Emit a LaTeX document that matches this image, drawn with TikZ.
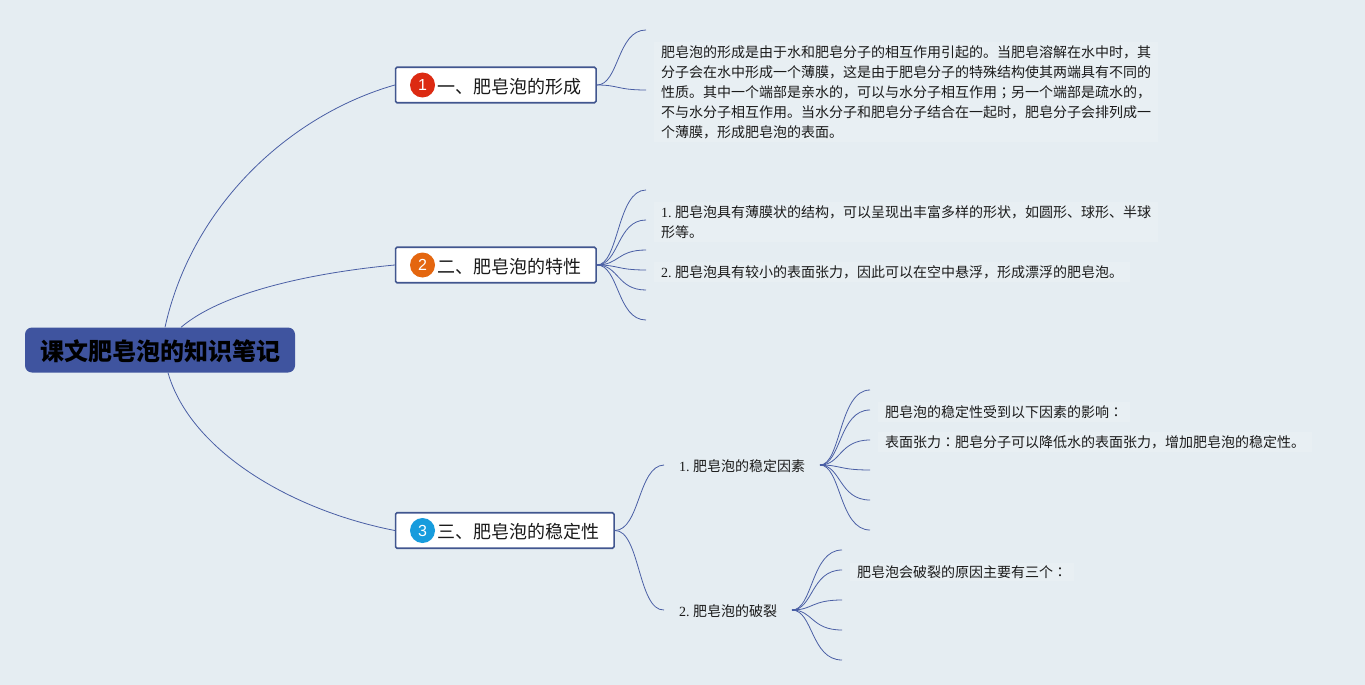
\documentclass[tikz,border=0pt]{standalone}
\usepackage{fontspec}
\setmainfont{Noto Sans CJK SC}
\newfontfamily\latn{Liberation Serif}
\newfontfamily\numf{Liberation Sans}
\newfontfamily\jpf{Noto Sans CJK JP}
\newcommand{\cjkcolon}{{\jpf ：}}
\newcommand{\cjksemi}{{\jpf ；}}
\newcommand{\numlabel}[1]{{\latn #1.}\hspace{3.3pt}}
\newcommand{\lowered}[2]{\raisebox{-#1}[\height][\depth]{#2}}
\definecolor{bgc}{HTML}{E5EDF2}
\definecolor{txtbg}{HTML}{E8EFF3}
\definecolor{linec}{HTML}{4A5FA5}
\definecolor{rootc}{HTML}{3F549F}
\definecolor{boxc}{HTML}{41568F}
\definecolor{ink}{HTML}{1A1A1A}
\definecolor{bred}{HTML}{DC2A12}
\definecolor{borange}{HTML}{E4660F}
\definecolor{bblue}{HTML}{179CDD}
\tikzset{
  rootbox/.style={fill=rootc,rounded corners=7pt,minimum width=270pt,minimum height=45pt,inner sep=0pt,font=\fontsize{24}{24}\selectfont\bfseries,text=black},
  branchbox/.style={draw=boxc,line width=1.6pt,fill=white,rounded corners=1.5pt,minimum height=35.5pt,inner sep=0pt,anchor=west,font=\fontsize{18}{18}\selectfont,text=ink},
  badge/.style={circle,minimum size=25pt,inner sep=0pt,text=white,font=\numf\fontsize{16}{16}\selectfont},
  note/.style={anchor=west,align=left,fill=txtbg,inner xsep=7pt,inner ysep=3pt,font=\fontsize{14}{20}\selectfont,text=ink},
  subtopic/.style={anchor=west,inner xsep=15pt,inner ysep=5pt,font=\fontsize{14}{14}\selectfont,text=ink},
  link/.style={draw=linec,line width=0.8pt},
  stub/.style={draw=linec,line width=2pt}
}
\begin{document}
\begin{tikzpicture}[x=1pt,y=-1pt]
\useasboundingbox (0,0) rectangle (1365,685);
\fill[bgc] (0,0) rectangle (1365,685);

% notes
\node[note] (n1) at (654,92) {肥皂泡的形成是由于水和肥皂分子的相互作用引起的。当肥皂溶解在水中时，其\\分子会在水中形成一个薄膜，这是由于肥皂分子的特殊结构使其两端具有不同的\\性质。其中一个端部是亲水的，可以与水分子相互作用\cjksemi 另一个端部是疏水的，\\不与水分子相互作用。当水分子和肥皂分子结合在一起时，肥皂分子会排列成一\\个薄膜，形成肥皂泡的表面。};
\node[note] (n2) at (654,222) {\numlabel{1}肥皂泡具有薄膜状的结构，可以呈现出丰富多样的形状，如圆形、球形、半球\\形等。};
\node[note] (n3) at (654,272) {\numlabel{2}肥皂泡具有较小的表面张力，因此可以在空中悬浮，形成漂浮的肥皂泡。};
\node[note] (n4) at (878,412) {肥皂泡的稳定性受到以下因素的影响\cjkcolon};
\node[note] (n5) at (878,442) {表面张力\cjkcolon 肥皂分子可以降低水的表面张力，增加肥皂泡的稳定性。};
\node[note] (n6) at (850,572) {肥皂泡会破裂的原因主要有三个\cjkcolon};

% root and branches
\node[rootbox] (root) at (160,350) {\lowered{1pt}{课文肥皂泡的知识笔记}};
\node[branchbox,minimum width=200.5pt,text width=200.5pt,align=left] (b1) at (394.8,85) {\hspace{42pt}\lowered{1.2pt}{一、肥皂泡的形成}};
\node[branchbox,minimum width=200.5pt,text width=200.5pt,align=left] (b2) at (394.8,265) {\hspace{42pt}\lowered{1.2pt}{二、肥皂泡的特性}};
\node[branchbox,minimum width=218.5pt,text width=218.5pt,align=left] (b3) at (394.8,530.5) {\hspace{42pt}\lowered{0.8pt}{三、肥皂泡的稳定性}};
\node[badge,fill=bred] (c1) at (422.5,85) {1};
\node[badge,fill=borange] (c2) at (422.5,265) {2};
\node[badge,fill=bblue] (c3) at (422.5,530.5) {3};

% sub topics
\node[subtopic] (s1) at (664,466) {\numlabel{1}肥皂泡的稳定因素};
\node[subtopic] (s2) at (664,611) {\numlabel{2}肥皂泡的破裂};
\coordinate (s1o) at (820,465);
\coordinate (s2o) at (792,610);

% free ends
\foreach \n/\x/\y in {a1/646/30,a2/646/90,
  d1/646/190,d2/646/220,d3/646/250,d4/646/270,d5/646/290,d6/646/320,
  e1/870/390,e2/870/410,e3/870/440,e4/870/470,e5/870/500,e6/870/530,
  f1/842/550,f2/842/570,f3/842/600,f4/842/630,f5/842/660}
  \coordinate (\n) at (\x,\y);

% root connectors
\draw[link] ([xshift=5pt]root.north) .. controls (192,205) and (290,115) .. (b1.west);
\draw[link] ([xshift=21pt]root.north) .. controls (225,290) and (320,272) .. (b2.west);
\draw[link] ([xshift=8pt]root.south) .. controls (190,450) and (290,510) .. (b3.west);

% fans
\foreach \t in {a1,a2} \draw[link] (b1.east) .. controls (619,85) and (617,0 |- \t) .. (\t);
\foreach \t in {d1,d2,d3,d4,d5,d6} \draw[link] (b2.east) .. controls (619,265) and (617,0 |- \t) .. (\t);
\foreach \t in {s1,s2} \draw[link] (b3.east) .. controls (640,530) and (638,0 |- \t) .. ([yshift=1pt]\t.west);
\foreach \t in {e1,e2,e3,e4,e5,e6} \draw[link] (s1o) .. controls (841,465) and (839,0 |- \t) .. (\t);
\foreach \t in {f1,f2,f3,f4,f5} \draw[link] (s2o) .. controls (813,610) and (811,0 |- \t) .. (\t);
\draw[stub] (s1o) -- ++(6,0);
\draw[stub] (s2o) -- ++(6,0);
\end{tikzpicture}
\end{document}
